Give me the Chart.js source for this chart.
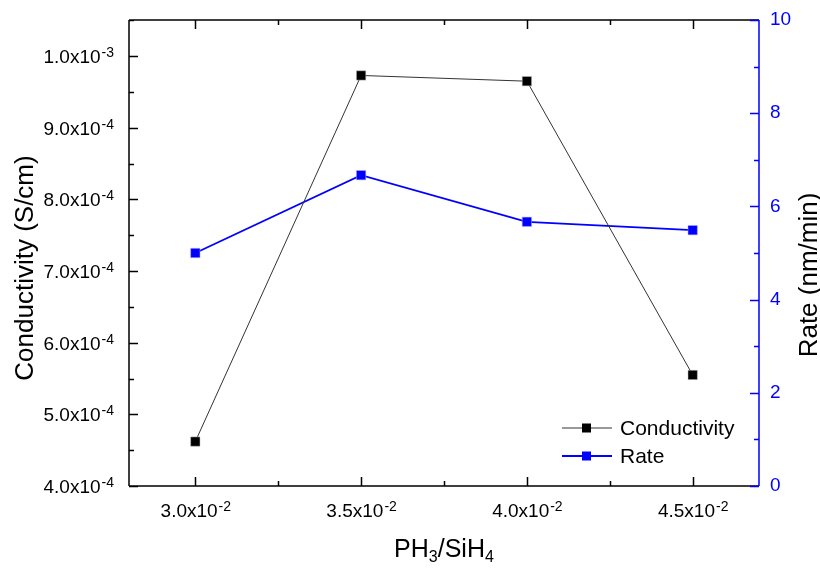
<!DOCTYPE html>
<html>
<head>
<meta charset="utf-8">
<script src="https://cdn.jsdelivr.net/npm/chart.js@4.4.1/dist/chart.umd.min.js"></script>
<style>
  html, body { margin: 0; padding: 0; background: #fff; }
  #wrap { width: 820px; height: 570px; position: relative; }
</style>
</head>
<body>
<div id="wrap"><canvas id="chart"></canvas></div>
<script>
// data
var ratioValues = [0.030, 0.035, 0.040, 0.045];
var conductivity = [4.62e-4, 9.73e-4, 9.65e-4, 5.55e-4];
var rate = [5.0, 6.67, 5.67, 5.49];

// tick labels (mantissa part + exponent)
var xTicks = [0.030, 0.035, 0.040, 0.045];
var xTickLabels = [["3.0x10", "-2"], ["3.5x10", "-2"], ["4.0x10", "-2"], ["4.5x10", "-2"]];
var leftTicks = [4e-4, 5e-4, 6e-4, 7e-4, 8e-4, 9e-4, 1e-3];
var leftTickLabels = [["4.0x10", "-4"], ["5.0x10", "-4"], ["6.0x10", "-4"], ["7.0x10", "-4"],
                      ["8.0x10", "-4"], ["9.0x10", "-4"], ["1.0x10", "-3"]];
var rightTicks = [0, 2, 4, 6, 8, 10];
var rightTickLabels = ["0", "2", "4", "6", "8", "10"];

var FONT = '"Liberation Sans", Arial, sans-serif';
var BLUE = "#0000ff";

function pts(xs, ys) {
  return xs.map(function (x, i) { return { x: x, y: ys[i] }; });
}

// text with a raised exponent
function supText(ctx, base, sup, x, y, align) {
  ctx.font = "19px " + FONT;
  var w = ctx.measureText(base).width;
  ctx.font = "14px " + FONT;
  var s = ctx.measureText(sup).width;
  var left = x;
  if (align === "right") left = x - w - s;
  if (align === "center") left = x - (w + s) / 2;
  ctx.textAlign = "left";
  ctx.textBaseline = "alphabetic";
  ctx.font = "19px " + FONT;
  ctx.fillText(base, left, y);
  ctx.font = "14px " + FONT;
  ctx.fillText(sup, left + w + 1, y - 6);
}

var axesPlugin = {
  id: "originAxes",
  afterDraw: function (chart) {
    var ctx = chart.ctx;
    var a = chart.chartArea;
    var xs = chart.scales.x, yl = chart.scales.y, yr = chart.scales.y2;
    ctx.save();
    ctx.lineWidth = 1.5;
    ctx.strokeStyle = "#000";
    ctx.beginPath();
    ctx.moveTo(a.left, a.top); ctx.lineTo(a.right, a.top);
    ctx.moveTo(a.left, a.top); ctx.lineTo(a.left, a.bottom);
    ctx.moveTo(a.left, a.bottom); ctx.lineTo(a.right, a.bottom);
    // x ticks, bottom and top, pointing inward
    var xv = [];
    for (var v = 0.0275; v < 0.047; v += 0.0025) xv.push(v);
    xv.forEach(function (v) {
      var px = Math.round(xs.getPixelForValue(v)) + 0.5;
      if (px <= a.left + 1 || px >= a.right - 1) return;
      var major = xTicks.some(function (t) { return Math.abs(t - v) < 1e-6; });
      var len = major ? 9 : 5;
      ctx.moveTo(px, a.bottom); ctx.lineTo(px, a.bottom - len);
      ctx.moveTo(px, a.top); ctx.lineTo(px, a.top + len);
    });
    // left ticks
    for (var k = 0; k <= 13; k++) {
      var val = 4e-4 + k * 0.5e-4;
      var py = Math.round(yl.getPixelForValue(val)) + 0.5;
      if (py < a.top) continue;
      var len2 = (k % 2 === 0) ? 9 : 5;
      ctx.moveTo(a.left, py); ctx.lineTo(a.left + len2, py);
    }
    ctx.stroke();

    // right axis in blue
    ctx.strokeStyle = BLUE;
    ctx.beginPath();
    ctx.moveTo(a.right, a.top); ctx.lineTo(a.right, a.bottom);
    for (var r = 0; r <= 10; r++) {
      var ry = Math.round(yr.getPixelForValue(r)) + 0.5;
      var len3 = (r % 2 === 0) ? 9 : 5;
      ctx.moveTo(a.right, ry); ctx.lineTo(a.right - len3, ry);
    }
    ctx.stroke();

    // tick labels
    ctx.fillStyle = "#000";
    xTicks.forEach(function (t, i) {
      supText(ctx, xTickLabels[i][0], xTickLabels[i][1], xs.getPixelForValue(t), a.bottom + 31, "center");
    });
    leftTicks.forEach(function (t, i) {
      supText(ctx, leftTickLabels[i][0], leftTickLabels[i][1], a.left - 16, yl.getPixelForValue(t) + 7, "right");
    });
    ctx.fillStyle = BLUE;
    ctx.font = "19px " + FONT;
    ctx.textAlign = "left";
    ctx.textBaseline = "middle";
    rightTicks.forEach(function (t, i) {
      ctx.fillText(rightTickLabels[i], a.right + 11, yr.getPixelForValue(t));
    });

    // axis titles
    ctx.fillStyle = "#000";
    ctx.font = "26px " + FONT;
    ctx.textAlign = "center";
    ctx.save();
    ctx.translate(26, (a.top + a.bottom) / 2 + 15);
    ctx.rotate(-Math.PI / 2);
    ctx.fillText("Conductivity (S/cm)", 0, 0);
    ctx.restore();
    ctx.save();
    ctx.translate(810, (a.top + a.bottom) / 2 + 22);
    ctx.rotate(-Math.PI / 2);
    ctx.fillText("Rate (nm/min)", 0, 0);
    ctx.restore();

    // x title with subscripts
    var parts = [["PH", false], ["3", true], ["/SiH", false], ["4", true]];
    var total = 0;
    parts.forEach(function (p) {
      ctx.font = (p[1] ? "16px " : "25px ") + FONT;
      total += ctx.measureText(p[0]).width;
    });
    var cx = (a.left + a.right) / 2 - total / 2;
    ctx.textAlign = "left";
    ctx.textBaseline = "alphabetic";
    parts.forEach(function (p) {
      ctx.font = (p[1] ? "16px " : "25px ") + FONT;
      ctx.fillText(p[0], cx, p[1] ? 562 : 557);
      cx += ctx.measureText(p[0]).width;
    });

    // legend
    var items = chart.data.datasets;
    items.forEach(function (ds, i) {
      var ly = 428 + i * 28;
      ctx.strokeStyle = ds.borderColor;
      ctx.lineWidth = ds.borderWidth;
      ctx.beginPath();
      ctx.moveTo(562, ly); ctx.lineTo(612, ly);
      ctx.stroke();
      ctx.fillStyle = ds.pointBackgroundColor;
      ctx.fillRect(582, ly - 4.5, 9, 9);
      ctx.fillStyle = "#000";
      ctx.font = "21px " + FONT;
      ctx.textBaseline = "middle";
      ctx.fillText(ds.label, 620, ly + 1);
    });
    ctx.restore();
  }
};

new Chart(document.getElementById("chart"), {
  type: "line",
  data: {
    datasets: [{
      label: "Conductivity",
      data: pts(ratioValues, conductivity),
      yAxisID: "y",
      borderColor: "#333333",
      borderWidth: 1,
      pointStyle: "rect",
      pointRadius: 6.6,
      pointBorderWidth: 0.5,
      pointBorderColor: "#bbbbbb",
      pointBackgroundColor: "#000000"
    }, {
      label: "Rate",
      data: pts(ratioValues, rate),
      yAxisID: "y2",
      borderColor: BLUE,
      borderWidth: 1.8,
      pointStyle: "rect",
      pointRadius: 6.6,
      pointBorderWidth: 0.5,
      pointBorderColor: "#aaaaff",
      pointBackgroundColor: BLUE
    }]
  },
  options: {
    responsive: true,
    maintainAspectRatio: false,
    animation: false,
    layout: { padding: { left: 129, right: 61, top: 20, bottom: 84 } },
    plugins: { legend: { display: false }, tooltip: { enabled: false } },
    scales: {
      x: { type: "linear", min: 0.028, max: 0.047, display: false },
      y: { type: "linear", position: "left", min: 4e-4, max: 1.0504e-3, display: false },
      y2: { type: "linear", position: "right", min: 0, max: 10, display: false }
    }
  },
  plugins: [axesPlugin]
});
</script>
</body>
</html>
